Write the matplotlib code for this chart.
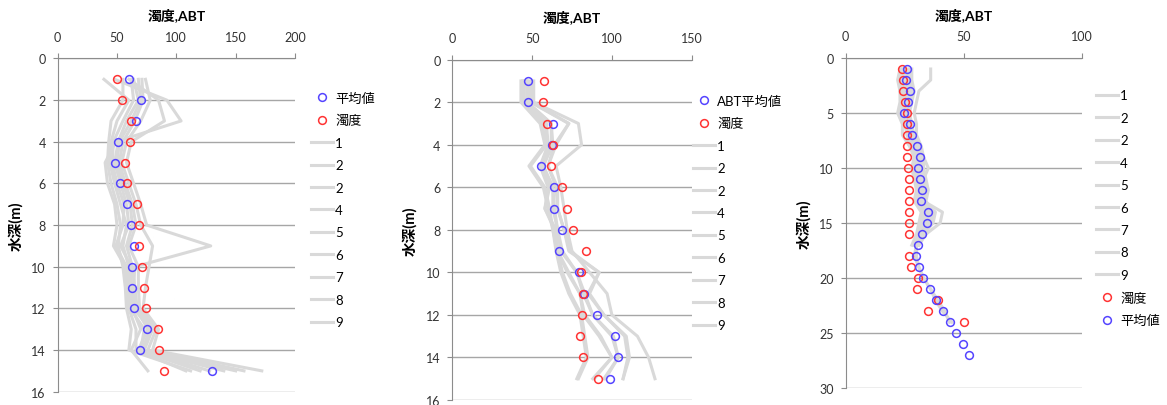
import matplotlib.pyplot as plt
import numpy as np

plt.rcParams['font.family'] = ['Lato', 'Noto Sans CJK JP']
plt.rcParams['font.size'] = 9

nan = np.nan

#station 1 ------------------------------------------------------
depth_1 = [1, 2, 3, 4, 5, 6, 7, 8, 9, 10, 11, 12, 13, 14, 15]
mean_1 = [59.7, 70.4, 65.9, 50.8, 48.0, 52.7, 58.6, 62.0, 64.0, 62.3, 62.6, 64.5, 75.5, 69.3, 130.2]
turb_1 = [49.9, 54.1, 62.0, 61.2, 56.4, 58.6, 66.5, 68.7, 68.7, 71.2, 72.9, 74.1, 84.7, 85.3, 89.2]
abt_1 = [
    [39, 60, 50, 45, 44, 48, 53, 58, 55, 60, 61, 63, 70, 62, 76],
    [48, 92, 104, 49, 40, 42, 48, 50, 47, 57, 58, 60, 66, 66, 108],
    [55, 55, 45, 43, 42, 45, 50, 53, 51, 55, 57, 58, 62, 60, 112],
    [60, 85, 90, 62, 58, 64, 70, 75, 129, 65, 64, 66, 76, 68, 120],
    [62, 64, 55, 47, 46, 50, 56, 55, 49, 58, 59, 61, 73, 70, 128],
    [64, 68, 58, 51, 48, 53, 58, 60, 53, 62, 62, 64, 78, 71, 140],
    [68, 70, 62, 52, 50, 55, 61, 63, 58, 63, 65, 67, 80, 73, 150],
    [71, 72, 65, 55, 52, 57, 63, 66, 60, 68, 68, 69, 83, 76, 157],
    [74, 78, 70, 58, 54, 60, 66, 70, 80, 77, 74, 72, 85, 80, 172],
]

#station 2 ------------------------------------------------------
depth_2 = [1, 2, 3, 4, 5, 6, 7, 8, 9, 10, 11, 12, 13, 14, 15]
mean_2 = [47.4, 47.4, 63.3, 62.3, 55.8, 63.9, 63.7, 68.5, 67.1, 79.6, 82.3, 90.9, 101.7, 103.8, 98.6]
turb_2 = [57.4, 56.6, 59.3, 63.3, 61.6, 68.5, 71.7, 75.4, 83.6, 80.6, 81.9, 81.5, 80.2, 81.7, 91.5]
abt_2 = [
    [43, 43, 55, 58, 48, 57, 60, 63, 65, 68, 73, 80, 82, 84, 78],
    [45, 45, 58, 60, 55, 60, 58, 64, 66, 72, 80, 82, 92, 100, 88],
    [47, 47, 62, 62, 57, 63, 63, 66, 68, 78, 82, 88, 100, 104, 95],
    [49, 49, 73, 64, 60, 65, 66, 70, 73, 92, 85, 95, 108, 110, 107],
    [51, 51, 79, 81, 65, 68, 70, 72, 75, 86, 97, 100, 116, 123, 127],
    [44, 44, 56, 59, 49, 58, 61, 63, 66, 69, 74, 81, 83, 85, 79],
    [45, 45, 59, 60, 56, 61, 58, 65, 66, 73, 80, 83, 93, 100, 89],
    [47, 47, 62, 63, 57, 63, 64, 66, 69, 78, 83, 88, 101, 104, 96],
    [50, 50, 73, 65, 60, 66, 66, 70, 74, 92, 86, 95, 109, 111, 107],
]

#station 3 ------------------------------------------------------
depth_3 = [1, 2, 3, 4, 5, 6, 7, 8, 9, 10, 11, 12, 13, 14, 15, 16, 17, 18,
           19, 20, 21, 22, 23, 24, 25, 26, 27]
mean_3 = [25.8, 25.7, 27.1, 26.4, 24.9, 27.4, 28.0, 30.1, 31.5, 30.8, 31.5, 32.2, 31.8, 35.0,
          34.3, 32.2, 30.5, 29.9, 31.2, 32.9, 35.7, 38.3, 41.1, 44.3, 46.8, 49.9, 52.3]
turb_3 = [24.0, 24.4, 24.4, 25.1, 25.8, 25.8, 25.8, 26.0, 26.0, 26.4, 26.8, 26.8, 26.7, 27.0,
          27.0, 27.0, nan, 26.7, 27.5, 30.6, 30.4, 39.0, 35.0, 50.0, nan, nan, nan]
abt_3 = [
    [36, 36, 31, 30, 29, 30, 30, 32, 33, 35, 33, 34, 33, 38, 37, 33, 30, 29, 31, 33, 36, 39, 42, 44],
    [25, 24, 24, 25, 24, 26, 27, 29, 31, 30, 31, 32, 31, 35, 34, 32, 30, 30, 31, 33, 36, 38, 41, 45],
    [24, 23, 23, 24, 23, 25, 26, 28, 30, 29, 30, 31, 30, 33, 33, 31, 29],
    [27, 27, 28, 27, 26, 28, 28, 30, 32, 31, 32, 33, 32, 36, 35, 33, 31],
    [23, 22, 23, 23, 22, 24, 24, 27, 29, 28, 29, 30, 29, 32, 31, 30, 28],
    [26, 26, 27, 26, 25, 27, 29, 31, 32, 32, 33, 34, 33, 41, 40, 34, 31],
    [25, 25, 26, 25, 24, 27, 27, 29, 30, 30, 32, 33, 31, 34, 33, 32, 30],
    [28, 28, 29, 28, 27, 28, 29, 31, 33, 33, 34, 35, 34, 37, 36, 33, 31],
    [24, 24, 25, 24, 23, 26, 26, 28, 30, 29, 31, 31, 30, 33, 32, 31, 29],
]

line_labels = ['1', '2', '2', '4', '5', '6', '7', '8', '9']

BLUE = '#5544ff'
RED = '#ff3333'
GRAY = '#d9d9d9'
AXIS = '#8c8c8c'


def gray_lines(ax, depth, lines):
    hs = []
    for vals, lab in zip(lines, line_labels):
        h, = ax.plot(vals, depth[:len(vals)], color=GRAY, lw=2.2, label=lab, zorder=2)
        hs.append(h)
    return hs


def dots(ax, vals, depth, color, lab):
    h, = ax.plot(vals, depth, ls='none', marker='o', ms=5.6, mfc='none',
                 mec=color, mew=1.1, label=lab, zorder=3)
    return h


def style(ax, xmax, ymax, ystep):
    ax.set_xlim(0, xmax)
    ax.set_ylim(ymax, 0)
    ax.set_xticks(np.arange(0, xmax + 1, 50))
    ax.set_yticks(np.arange(0, ymax + 1, ystep))
    ax.xaxis.tick_top()
    ax.xaxis.set_label_position('top')
    ax.set_xlabel('濁度,ABT', fontweight='bold', fontsize=10, labelpad=8)
    ax.set_ylabel('水深(m)', fontweight='bold', fontsize=10.5, labelpad=6)
    for s in ['right', 'bottom']:
        ax.spines[s].set_visible(False)
    for s in ['top', 'left']:
        ax.spines[s].set_color(AXIS)
    ax.tick_params(direction='out', length=3.5, color=AXIS, labelsize=9, colors='#333333')
    ax.tick_params(axis='x', pad=8)
    ax.tick_params(axis='y', pad=5)
    ax.yaxis.grid(True, color='#a6a6a6', lw=1.0)
    ax.set_axisbelow(True)


def key(ax, fig, handles, x, y):
    ax.legend(handles=handles, loc='upper left', bbox_to_anchor=(x, y),
              bbox_transform=fig.transFigure, frameon=False, fontsize=9.5,
              handlelength=1.67, handletextpad=0.15, labelspacing=0.79,
              borderpad=0, borderaxespad=0, numpoints=1)


fig = plt.figure(figsize=(11.67, 4.06), dpi=100)
ax1 = fig.add_axes([0.0494, 0.0328, 0.2034, 0.8207])
ax2 = fig.add_axes([0.3876, 0.0123, 0.2051, 0.8382])
ax3 = fig.add_axes([0.7247, 0.0411, 0.2022, 0.8136])

#panel 1
ls1 = gray_lines(ax1, depth_1, abt_1)
m1 = dots(ax1, mean_1, depth_1, BLUE, '平均値')
t1 = dots(ax1, turb_1, depth_1, RED, '濁度')
style(ax1, 200, 16, 2)
key(ax1, fig, [m1, t1] + ls1, 0.2665, 0.7722)

#panel 2
ls2 = gray_lines(ax2, depth_2, abt_2)
m2 = dots(ax2, mean_2, depth_2, BLUE, 'ABT平均値')
t2 = dots(ax2, turb_2, depth_2, RED, '濁度')
style(ax2, 150, 16, 2)
key(ax2, fig, [m2, t2] + ls2, 0.5938, 0.7648)

#panel 3
ls3 = gray_lines(ax3, depth_3, abt_3)
t3 = dots(ax3, turb_3, depth_3, RED, '濁度')
m3 = dots(ax3, mean_3, depth_3, BLUE, '平均値')
style(ax3, 100, 30, 5)
key(ax3, fig, ls3 + [t3, m3], 0.9392, 0.7771)

fig.savefig('out.png', dpi=100)
